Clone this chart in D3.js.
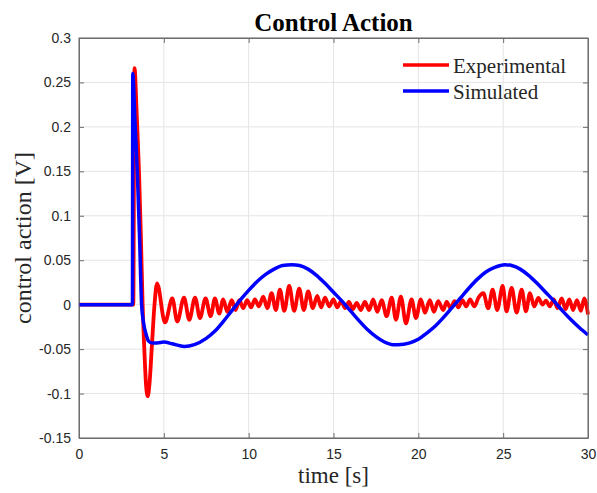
<!DOCTYPE html>
<html>
<head>
<meta charset="utf-8">
<script src="https://cdn.jsdelivr.net/npm/d3@7"></script>
<style>
	body { margin: 0; background: #fff; }
	.tick text { font-family: "Liberation Sans", Arial, sans-serif; font-size: 14px; fill: #262626; }
</style>
</head>
<body>
<div id="container"></div>
<script>
/* DATA */

	/* simulated control action: [time s, value V] */
	const simTime = [0, 3.15, 3.17, 3.30, 3.44, 3.57, 3.69, 3.80, 3.95, 4.10, 4.30, 4.60, 5.00, 5.50, 6.20, 6.80, 7.50, 8.00, 8.50, 9.00, 9.50, 10.0, 10.5, 11.0, 11.5, 12.0, 12.55, 13.0, 13.5, 14.0, 14.5, 15.0, 15.5, 16.0, 16.5, 17.0, 17.5, 18.0, 18.5, 18.8, 19.5, 20.0, 20.5, 21.0, 21.5, 22.0, 22.5, 23.0, 23.5, 24.0, 24.5, 25.1, 25.5, 26.0, 26.5, 27.0, 27.5, 28.0, 28.5, 29.0, 29.5, 30.0];
	const simValue = [0, 0, 0.260, 0.205, 0.148, 0.075, 0.0, -0.020, -0.033, -0.041, -0.043, -0.043, -0.042, -0.044, -0.047, -0.045, -0.038, -0.030, -0.019, -0.007, 0.005, 0.016, 0.026, 0.034, 0.040, 0.044, 0.045, 0.044, 0.040, 0.033, 0.024, 0.014, 0.004, -0.007, -0.018, -0.028, -0.036, -0.042, -0.045, -0.045, -0.043, -0.039, -0.032, -0.024, -0.014, -0.003, 0.008, 0.019, 0.029, 0.037, 0.042, 0.045, 0.044, 0.040, 0.033, 0.024, 0.014, 0.004, -0.007, -0.017, -0.026, -0.034];

	/* experimental control action: spike then peaks / troughs of the oscillation */
	const expTime = [0, 3.20, 3.27, 3.40, 3.54, 3.65, 3.75, 3.85, 3.95, 4.05, 4.15, 4.30, 4.45, 4.60,
		5.07, 5.50, 5.79, 6.19, 6.50, 6.84, 7.13, 7.46, 7.76, 8.01, 8.27, 8.50, 8.74, 9.00, 9.23, 9.45,
		9.68, 9.91, 10.14, 10.37, 10.60, 10.86, 11.10, 11.35, 11.60, 11.84, 12.10, 12.39, 12.68, 12.98,
		13.25, 13.51, 13.78, 14.04, 14.27, 14.50, 14.75, 14.99, 15.22, 15.45, 15.68, 15.91, 16.14, 16.37,
		16.60, 16.85, 17.10, 17.34, 17.58, 17.84, 18.13, 18.43, 18.68, 18.97, 19.27, 19.60, 19.86, 20.15,
		20.39, 20.68, 20.92, 21.17, 21.47, 21.67, 21.90, 22.13, 22.36, 22.59, 22.82, 23.05, 23.30, 23.55,
		23.83, 24.12, 24.38, 24.65, 24.97, 25.20, 25.50, 25.79, 26.09, 26.34, 26.58, 26.83, 27.07, 27.32,
		27.52, 27.75, 27.98, 28.20, 28.45, 28.68, 28.90, 29.12, 29.35, 29.58, 29.78, 30.0];
	const expValue = [0, 0, 0.266, 0.215, 0.148, 0.075, 0.0, -0.050, -0.090, -0.103, -0.090, -0.045, 0.0, 0.024,
		-0.020, 0.007, -0.019, 0.008, -0.017, 0.008, -0.015, 0.007, -0.013, 0.007, -0.010, 0.006, -0.008, 0.005, -0.006, 0.005,
		-0.004, 0.005, -0.003, 0.006, -0.002, 0.009, -0.004, 0.013, -0.006, 0.017, -0.007, 0.021, -0.007, 0.018,
		-0.006, 0.015, -0.004, 0.010, -0.003, 0.008, -0.002, 0.006, -0.003, 0.004, -0.004, 0.003, -0.005, 0.002,
		-0.006, 0.003, -0.006, 0.006, -0.008, 0.005, -0.013, 0.008, -0.017, 0.009, -0.021, 0.006, -0.015, 0.006,
		-0.009, 0.005, -0.008, 0.004, -0.006, 0.003, -0.004, 0.004, -0.003, 0.005, -0.002, 0.006, -0.002, 0.008,
		0.013, -0.004, 0.017, -0.006, 0.021, -0.0075, 0.019, -0.009, 0.017, -0.0075, 0.013, -0.002, 0.0075, 0.0,
		0.0045, -0.002, 0.006, -0.004, 0.007, -0.005, 0.006, -0.006, 0.005, -0.007, 0.007, -0.011];

	/* axis ticks */
	const xTicks = [0, 5, 10, 15, 20, 25, 30];
	const yTicks = [-0.15, -0.1, -0.05, 0, 0.05, 0.1, 0.15, 0.2, 0.25, 0.3];

	const seriesNames = ["Experimental", "Simulated"];
	const seriesColors = ["#ff0000", "#0000ff"];

/* CONSTANTS AND GLOBALS */
	const width = 597,
	height = 493,
	margin = { top: 38, bottom: 55, left: 79, right: 9 };

/* SCALES */
	const xScale = d3.scaleLinear()
		.domain([0, 30])
		.range([margin.left, width - margin.right])

	const yScale = d3.scaleLinear()
		.domain([-0.15, 0.3])
		.range([height - margin.bottom, margin.top])

	const colorScale = d3.scaleOrdinal()
		.domain(seriesNames)
		.range(seriesColors)

/* HTML ELEMENTS */
	const svg = d3.select("#container")
		.append("svg")
		.attr("width", width)
		.attr("height", height)

	const x0 = xScale.range()[0], x1 = xScale.range()[1];
	const y0 = yScale.range()[0], y1 = yScale.range()[1];

	/* grid */
	svg.append("g")
		.selectAll("line")
		.data(xTicks)
		.join("line")
		.attr("x1", d => xScale(d)).attr("x2", d => xScale(d))
		.attr("y1", y1).attr("y2", y0)
		.attr("stroke", "#e4e4e4")
	svg.append("g")
		.selectAll("line")
		.data(yTicks)
		.join("line")
		.attr("x1", x0).attr("x2", x1)
		.attr("y1", d => yScale(d)).attr("y2", d => yScale(d))
		.attr("stroke", "#e4e4e4")

	/* axes: MATLAB style, ticks pointing inward on all four sides */
	const fmt = d => String(+d.toFixed(2));
	const axisColor = "#6e6e6e";

	const xAxis = d3.axisBottom(xScale)
		.tickValues(xTicks)
		.tickFormat(fmt)
		.tickSizeInner(-5)
		.tickSizeOuter(0)
		.tickPadding(11);
	svg.append("g")
		.attr("transform", `translate(0, ${y0})`)
		.call(xAxis)

	const yAxis = d3.axisLeft(yScale)
		.tickValues(yTicks)
		.tickFormat(fmt)
		.tickSizeInner(-5)
		.tickSizeOuter(0)
		.tickPadding(8);
	svg.append("g")
		.attr("transform", `translate(${x0}, 0)`)
		.call(yAxis)

	svg.append("g")
		.attr("transform", `translate(0, ${y1})`)
		.call(d3.axisTop(xScale).tickValues(xTicks).tickFormat("").tickSizeInner(-5).tickSizeOuter(0))
	svg.append("g")
		.attr("transform", `translate(${x1}, 0)`)
		.call(d3.axisRight(yScale).tickValues(yTicks).tickFormat("").tickSizeInner(-5).tickSizeOuter(0))

	svg.selectAll(".domain, .tick line").attr("stroke", axisColor);

	/* lines */
	const line = d3.line()
		.x(d => xScale(d[0]))
		.y(d => yScale(d[1]))
		.curve(d3.curveMonotoneX);

	const expData = expTime.map((t, i) => [t, expValue[i]]);
	const simData = simTime.map((t, i) => [t, simValue[i]]);

	svg.append("path")
		.datum(expData)
		.attr("d", line)
		.attr("fill", "none")
		.attr("stroke", colorScale("Experimental"))
		.attr("stroke-width", 3.8)
		.attr("stroke-linejoin", "round");

	svg.append("path")
		.datum(simData)
		.attr("d", line)
		.attr("fill", "none")
		.attr("stroke", colorScale("Simulated"))
		.attr("stroke-width", 3.5)
		.attr("stroke-linejoin", "round");

	/* box on top of the lines */
	svg.append("rect")
		.attr("x", x0).attr("y", y1)
		.attr("width", x1 - x0).attr("height", y0 - y1)
		.attr("fill", "none")
		.attr("stroke", axisColor);

	/* title and labels */
	const serif = "'Liberation Serif', 'Times New Roman', serif";
	svg.append("text")
		.attr("x", (x0 + x1) / 2)
		.attr("y", 31)
		.attr("text-anchor", "middle")
		.style("font-family", serif)
		.style("font-weight", "bold")
		.style("font-size", "25px")
		.text("Control Action");

	svg.append("text")
		.attr("x", (x0 + x1) / 2)
		.attr("y", 483)
		.attr("text-anchor", "middle")
		.style("font-family", serif)
		.style("font-size", "23px")
		.style("fill", "#262626")
		.text("time [s]");

	svg.append("text")
		.attr("transform", `translate(31, ${(y0 + y1) / 2}) rotate(-90)`)
		.attr("text-anchor", "middle")
		.style("font-family", serif)
		.style("font-size", "24px")
		.style("fill", "#262626")
		.text("control action [V]");

	/* legend */
	const legend = svg.append("g")
		.selectAll("g")
		.data(seriesNames)
		.join("g")
		.attr("transform", (d, i) => `translate(403, ${65 + i * 26})`);
	legend.append("line")
		.attr("x1", 0).attr("x2", 46)
		.attr("stroke", d => colorScale(d))
		.attr("stroke-width", 3.5);
	legend.append("text")
		.attr("x", 50)
		.attr("y", 8)
		.style("font-family", serif)
		.style("font-size", "21px")
		.style("fill", "#262626")
		.text(d => d);
</script>
</body>
</html>
